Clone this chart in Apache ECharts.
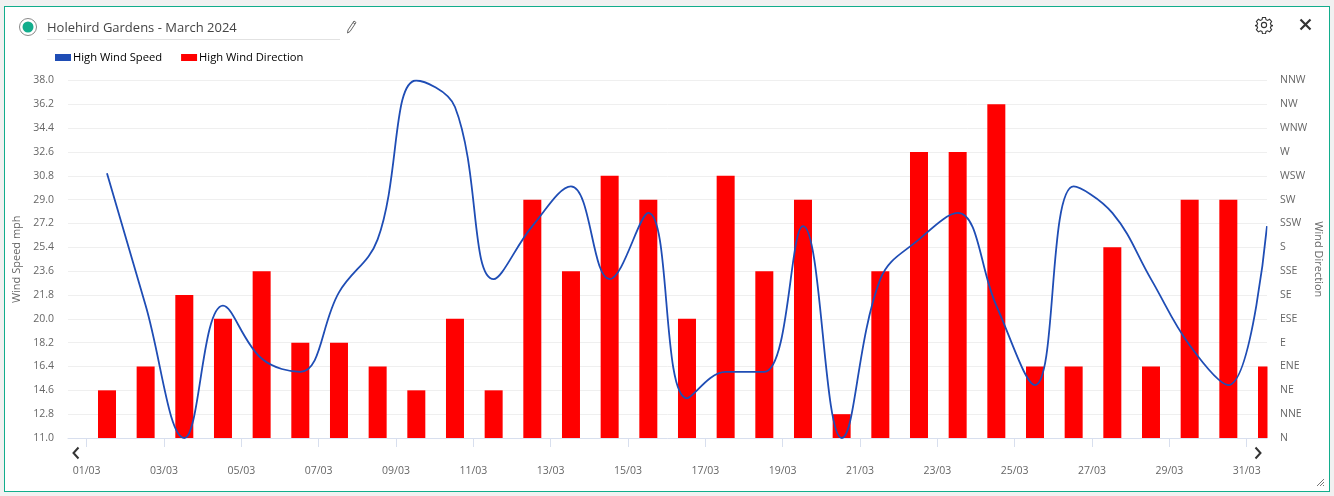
<!DOCTYPE html>
<html>
<head>
<meta charset="utf-8">
<title>Holehird Gardens - March 2024</title>
<script src="https://cdn.jsdelivr.net/npm/echarts@6/dist/echarts.min.js"></script>
<style>
  html, body { margin: 0; width: 1334px; height: 496px; background: #f1f1f1; overflow: hidden; font-family: "Open Sans", sans-serif; }
  .card { position: absolute; left: 4px; top: 6px; width: 1324px; height: 484px; border: 1px solid #12ad8c; background: #fff; box-sizing: content-box; }
  #chart { position: absolute; left: 0; top: 0; width: 1334px; height: 496px; }
  .title { position: absolute; left: 47px; top: 18px; width: 293px; height: 21px; border-bottom: 1px solid #e2e2e2; font-size: 13px; line-height: 19px; color: #444; }
  .icon { position: absolute; }
</style>
</head>
<body>
<div class="card"></div>
<div id="chart"></div>
<div class="title">Holehird Gardens - March 2024</div>
<svg class="icon" style="left:18px;top:17px" width="20" height="20"><circle cx="10" cy="10" r="8.5" fill="none" stroke="#888" stroke-width="1"/><circle cx="10" cy="10" r="5.5" fill="#12ad8c"/></svg>
<svg class="icon" style="left:345px;top:19px" width="13" height="16"><path d="M3 11 L9 2 L11 3.5 L5 12.5 L2.5 14 Z M8 3.5 L10 5" fill="none" stroke="#666" stroke-width="1"/></svg>
<svg class="icon" style="left:1255px;top:16px" width="18" height="18" viewBox="0 0 18 18"><path d="M7.5 1.5h3l.5 2.2 1.6.7 2-1.1 2 2.2-1.2 1.9.6 1.6 2 .6v0l-2 .6-.6 1.6 1.2 1.9-2 2.2-2-1.1-1.6.7-.5 2.2h-3l-.5-2.2-1.6-.7-2 1.1-2-2.2 1.2-1.9-.6-1.6-2-.6 2-.6.6-1.6-1.2-1.9 2-2.2 2 1.1 1.6-.7z" fill="none" stroke="#333" stroke-width="1.1"/><circle cx="9" cy="9" r="2.6" fill="none" stroke="#333" stroke-width="1.1"/></svg>
<svg class="icon" style="left:1299px;top:18px" width="13" height="13"><path d="M1.5 1.5 L11.5 11.5 M11.5 1.5 L1.5 11.5" stroke="#333" stroke-width="2.2"/></svg>
<svg class="icon" style="left:71px;top:446px" width="10" height="14"><path d="M7.5 1.5 L2.5 7 L7.5 12.5" fill="none" stroke="#333" stroke-width="2"/></svg>
<svg class="icon" style="left:1253px;top:446px" width="10" height="14"><path d="M2.5 1.5 L7.5 7 L2.5 12.5" fill="none" stroke="#333" stroke-width="2"/></svg>
<svg class="icon" style="left:1316px;top:478px" width="9" height="9"><path d="M1 8 L8 1 M4 8 L8 4 M7 8 L8 7" stroke="#777" stroke-width="1"/></svg>
<script>
const days = [1, 2, 3, 4, 5, 6, 7, 8, 9, 10, 11, 12, 13, 14, 15, 16, 17, 18, 19, 20, 21, 22, 23, 24, 25, 26, 27, 28, 29, 30, 31]
const highWindSpeed = [31, 21, 11, 21, 17, 16, 22, 26, 38, 36, 23, 27, 30, 23, 28, 14, 16, 16, 27, 11, 23, 26, 28, 21, 15, 30, 28, 23, 18, 15, 27]
const highWindDirection = ['NE','ENE','SE','ESE','SSE','E','E','ENE','NE','ESE','NE','SW','SSE','WSW','SW','ESE',
  'WSW','SSE','SW','NNE','SSE','W','W','NW','ENE','ENE','S','ENE','SW','SW','ENE']
const directions = ['N','NNE','NE','ENE','E','ESE','SE','SSE','S','SSW','SW','WSW','W','WNW','NW','NNW']
const speedTicks = [11, 12.8, 14.6, 16.4, 18.2, 20, 21.8, 23.6, 25.4, 27.2, 29, 30.8, 32.6, 34.4, 36.2, 38]
const tickDays = [1, 3, 5, 7, 9, 11, 13, 15, 17, 19, 21, 23, 25, 27, 29, 31]

// readings sit about half a day after the date tick
const readingOffset = 0.525

const textColor = '#666'
const font = '"Open Sans", sans-serif'
const chart = echarts.init(document.getElementById('chart'))

chart.setOption({
  animation: false,
  textStyle: { fontFamily: font },
  legend: {
    left: 50,
    top: 47,
    itemWidth: 16,
    itemHeight: 7,
    itemGap: 19,
    icon: 'rect',
    textStyle: { color: '#000', fontSize: 11.2, fontFamily: font, padding: [0, 0, 0, -3] },
    data: ['High Wind Speed', 'High Wind Direction']
  },
  grid: { left: 68, right: 67, top: 80.5, bottom: 58, outerBoundsMode: 'none' },
  // bars on a value axis are not clipped at the plot edge, so the last one is trimmed here
  graphic: [{
    type: 'rect',
    z: 100,
    shape: { x: 1267.5, y: 80, width: 9, height: 358 },
    style: { fill: '#fff' },
    silent: true
  }],
  xAxis: {
    type: 'value',
    min: 0.517,
    max: 31 + readingOffset,
    offset: 9.5,
    axisLine: { lineStyle: { color: '#d8dfee' } },
    axisTick: { length: 9, lineStyle: { color: '#d8dfee' }, customValues: tickDays },
    axisLabel: {
      color: textColor,
      fontSize: 10.5,
      margin: 18,
      hideOverlap: false,
      customValues: tickDays,
      formatter: v => String(v).padStart(2, '0') + '/03'
    },
    splitLine: { show: false }
  },
  yAxis: [{
    type: 'value',
    min: 11,
    max: 38,
    name: 'Wind Speed mph',
    nameLocation: 'middle',
    nameGap: 44,
    nameTextStyle: { color: textColor, fontSize: 11 },
    axisLine: { show: false },
    axisTick: { show: false, customValues: speedTicks },
    axisLabel: {
      color: textColor,
      fontSize: 10.5,
      margin: 14,
      customValues: speedTicks,
      formatter: v => v.toFixed(1)
    },
    splitLine: { show: true, lineStyle: { color: '#efefef' } }
  }, {
    type: 'value',
    min: 0,
    max: 15,
    interval: 1,
    name: 'Wind Direction',
    nameLocation: 'middle',
    nameGap: 46,
    nameMoveOverlap: false,
    nameRotate: -90,
    nameTextStyle: { color: textColor, fontSize: 11 },
    axisLine: { show: false },
    axisTick: { show: false },
    axisLabel: { color: textColor, fontSize: 10.5, margin: 13, formatter: v => directions[v] },
    splitLine: { show: false }
  }],
  series: [{
    name: 'High Wind Speed',
    type: 'line',
    yAxisIndex: 0,
    z: 5,
    smooth: 0.4,
    showSymbol: false,
    itemStyle: { color: '#1f4db5' },
    lineStyle: { color: '#1f4db5', width: 1.8 },
    data: days.map((d, i) => [d + readingOffset, highWindSpeed[i]])
  }, {
    name: 'High Wind Direction',
    type: 'bar',
    yAxisIndex: 1,
    barWidth: 18,
    itemStyle: { color: '#ff0000' },
    data: days.map((d, i) => [d + readingOffset, directions.indexOf(highWindDirection[i])])
  }]
})
</script>
</body>
</html>
